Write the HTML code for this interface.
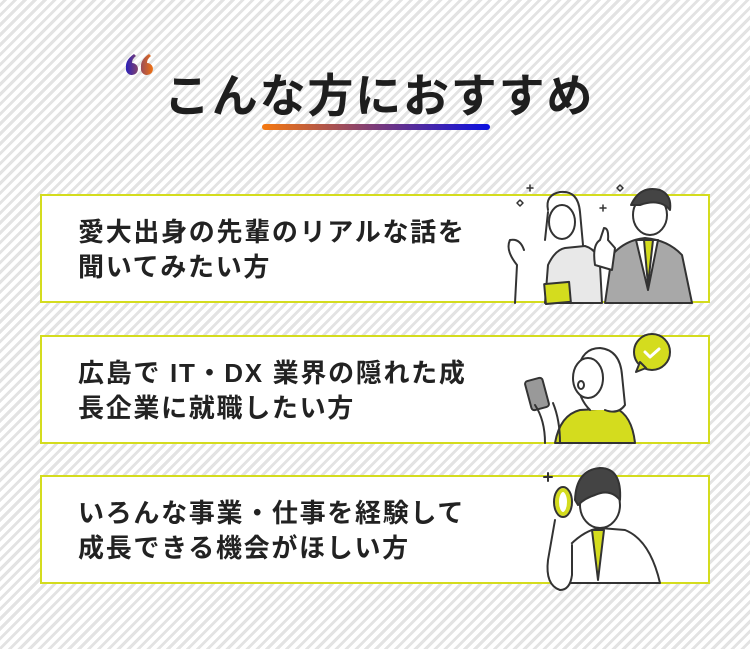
<!DOCTYPE html>
<html><head><meta charset="utf-8"><style>
html,body{margin:0;padding:0}
body{width:750px;height:649px;position:relative;overflow:hidden;
background:repeating-linear-gradient(-45deg,#fff 0 4px,#e3e3e3 4px 7px);
font-family:"Liberation Sans","Noto Sans CJK JP",sans-serif;color:#222}
.t{position:absolute;left:164px;top:60px;font-size:46px;font-weight:bold;letter-spacing:1.8px;white-space:nowrap;color:#1e1e1e}
.ul{position:absolute;left:262px;top:124px;width:228px;height:6px;border-radius:3px;background:linear-gradient(90deg,#f5780f,#7a3a7a,#0a10e0)}
.box{position:absolute;left:40px;width:666px;height:105px;background:#fff;border:2px solid #d4dc1e}
.box p{margin:0;position:absolute;left:36px;top:19px;font-size:26px;font-weight:bold;line-height:35px;letter-spacing:1.7px;color:#222;white-space:nowrap}
svg{position:absolute;overflow:visible}
</style></head><body>
<svg width="40" height="40" style="left:122px;top:46px">
 <defs><linearGradient id="g" x1="0" x2="1"><stop offset="0" stop-color="#2a1fb8"/><stop offset="1" stop-color="#f07010"/></linearGradient></defs>
 <path d="M12 8 Q3 14 4 22 A6 6 0 1 0 10 17 Q10 13 14 10 Z M27 8 Q18 14 19 22 A6 6 0 1 0 25 17 Q25 13 29 10 Z" fill="url(#g)"/>
</svg>
<div class="t">こんな方におすすめ</div>
<div class="ul"></div>

<div class="box" style="top:194px"><p>愛大出身の先輩のリアルな話を<br>聞いてみたい方</p></div>
<div class="box" style="top:335px"><p>広島で IT・DX 業界の隠れた成<br>長企業に就職したい方</p></div>
<div class="box" style="top:475px"><p>いろんな事業・仕事を経験して<br>成長できる機会がほしい方</p></div>

<svg width="750" height="649" style="left:0;top:0" fill="none" stroke="#333" stroke-width="2" stroke-linejoin="round" stroke-linecap="round">
 <path d="M545 303 L548 265 Q555 250 565 248 L585 246 Q598 250 600 265 L602 303 Z" fill="#e8e8e8"/>
 <path d="M548 210 Q545 195 560 192 Q578 190 580 212 L583 245 M548 212 L545 240" />
 <ellipse cx="562" cy="222" rx="13" ry="17" fill="#fff"/>
 <rect x="545" y="283" width="25" height="20" fill="#d4dc1e" transform="rotate(-5 557 293)"/>
 <path d="M515 303 L517 265 Q505 250 510 240 Q520 238 524 250" fill="#fff"/>
 <path d="M605 303 L612 255 Q625 240 645 238 Q668 240 682 255 L692 303 Z" fill="#a8a8a8"/>
 <path d="M636 240 L648 290 L658 240 Z" fill="#fff"/>
 <path d="M644 240 L648 285 L653 240 Z" fill="#d4dc1e"/>
 <ellipse cx="650" cy="215" rx="17" ry="20" fill="#fff"/>
 <path d="M631 205 Q640 185 660 190 Q672 195 670 210 Q660 198 640 205 Z" fill="#444"/>
 <path d="M595 265 Q592 245 600 240 L604 228 Q609 228 608 240 L615 248 L612 270 Z" fill="#fff"/>
 <path d="M530 185v6M527 188h6M517 203l3-3 3 3-3 3z M603 205v6M600 208h6 M617 188l3-3 3 3-3 3z" stroke-width="1.5"/>

 <path d="M555 443 Q560 415 580 410 L615 408 Q632 415 635 443 Z" fill="#d4dc1e"/>
 <path d="M590 410 Q575 395 578 370 Q582 348 600 348 Q620 350 622 375 L625 405 Q618 415 605 410" fill="#fff"/>
 <ellipse cx="588" cy="378" rx="15" ry="20" fill="#fff"/>
 <ellipse cx="581" cy="385" rx="3" ry="4"/>
 <rect x="528" y="379" width="18" height="30" rx="3" fill="#999" transform="rotate(-15 537 394)"/>
 <path d="M535 405 Q545 420 545 443 M553 403 Q560 420 560 443"/>
 <circle cx="652" cy="352" r="18" fill="#d4dc1e"/>
 <path d="M636 372 L640 362 L646 368 Z" fill="#d4dc1e"/>
 <path d="M645 352 l5 5 9-8" stroke="#fff" stroke-width="3"/>

 <path d="M565 583 L570 545 Q585 530 600 528 L625 530 Q650 540 660 583 Z" fill="#fff"/>
 <path d="M592 530 L598 580 L604 530 Z" fill="#d4dc1e"/>
 <ellipse cx="600" cy="505" rx="20" ry="23" fill="#fff"/>
 <path d="M575 500 Q576 470 600 468 Q622 468 620 500 Q610 488 595 495 Q585 498 578 505 Z" fill="#444"/>
 <ellipse cx="563" cy="502" rx="6" ry="12" fill="none" stroke="#d4dc1e" stroke-width="4"/>
 <ellipse cx="563" cy="502" rx="9" ry="15"/>
 <path d="M555 520 L548 560 Q545 585 560 590 Q570 590 572 575 L572 545" fill="#fff"/>
 <path d="M548 473v8M544 477h8"/>
</svg>
</body></html>
